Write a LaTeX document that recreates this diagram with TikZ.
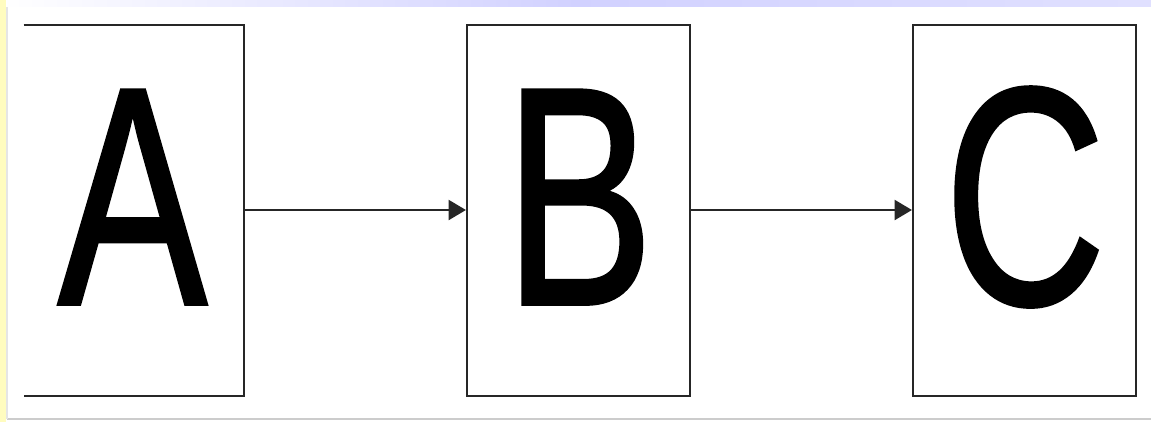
\documentclass[tikz,border=0pt]{standalone}
\usepackage{fontspec}
\setmainfont{Liberation Sans}
\newfontfamily\bigletterfont[FakeBold=1.2]{Liberation Sans}
\usetikzlibrary{arrows.meta}
\begin{document}
\begin{tikzpicture}[x=0.75pt,y=-0.75pt,
  boxframe/.style={draw=black!85,line width=1.6pt,rectangle,inner sep=0pt},
  letter/.style={inner sep=0pt,anchor=base,text=black,font=\bigletterfont\fontsize{233}{233}\selectfont},
  conn/.style={draw=black!85,line width=1.6pt,-{Triangle[length=13pt,width=15pt]}}]
\useasboundingbox (0,0) rectangle (1151,422);
\fill[white] (0,0) rectangle (1151,422);
% page decorations
\shade[left color=white,right color=blue!12,middle color=blue!18] (0,0) rectangle (1151,6);
\fill[yellow!25] (0,0) rectangle (6,422);
\draw[black!20,line width=1pt] (7,419) -- (1151,419);
\draw[black!10,line width=0.8pt] (7,7) -- (7,419);
% boxes
\node[rectangle,inner sep=0pt,minimum width=220*0.75pt,minimum height=371*0.75pt] (boxA) at (134,210.5) {};
\draw[black!85,line width=1.6pt] (boxA.north west) -- (boxA.north east) -- (boxA.south east) -- (boxA.south west);
\node[boxframe,minimum width=223*0.75pt,minimum height=371*0.75pt] (boxB) at (578.5,210.5) {};
\node[boxframe,minimum width=223*0.75pt,minimum height=371*0.75pt] (boxC) at (1024.5,210.5) {};
% letters
\node[letter] (la) at (132.5,304) {\scalebox{0.72}[1]{A}};
\node[letter] (lb) at (579,304) {\scalebox{0.72}[1]{B}};
\node[letter] (lc) at (1025,304) {\scalebox{0.72}[1]{C}};
% connectors
\draw[conn] (boxA.east |- 0,210) -- (boxB.west |- 0,210);
\draw[conn] (boxB.east |- 0,210) -- (boxC.west |- 0,210);
\end{tikzpicture}
\end{document}
